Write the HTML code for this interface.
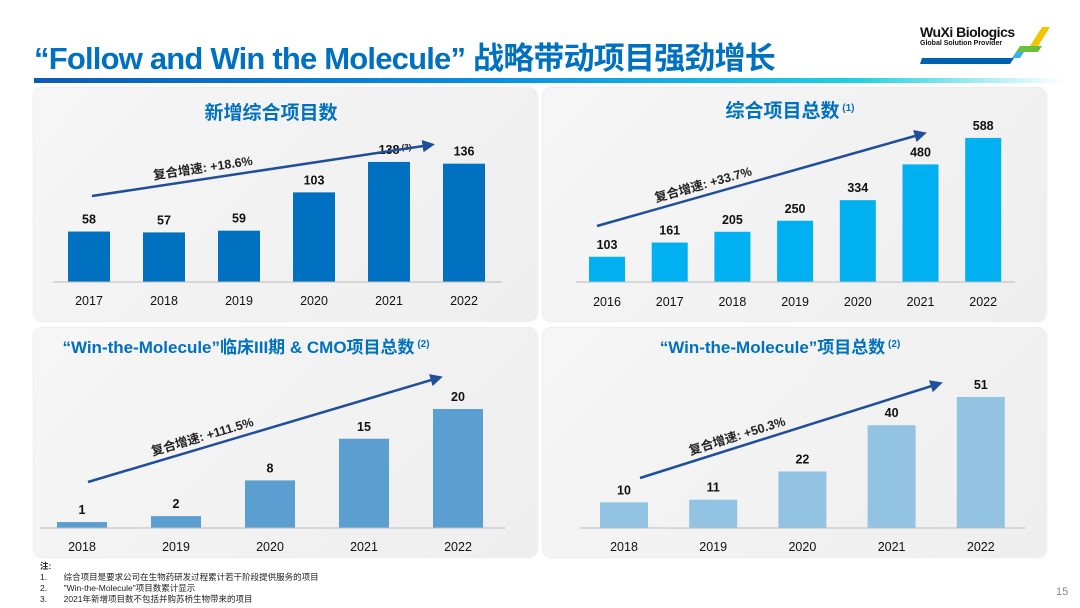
<!DOCTYPE html>
<html><head><meta charset="utf-8">
<style>
body{margin:0;width:1080px;height:608px;background:#fff;position:relative;overflow:hidden;font-family:"Liberation Sans","Noto Sans CJK SC",sans-serif}
.panel{position:absolute;border-radius:8px;background:linear-gradient(135deg,#f6f6f6,#eeeeee);box-shadow:0 0 2px #ccc}
svg text{font-family:"Liberation Sans","Noto Sans CJK SC",sans-serif}
</style></head><body>
<div style="position:absolute;left:34px;top:33px;font-size:31px;font-weight:bold;color:#0070C0;letter-spacing:-0.8px">“Follow and Win the Molecule” 战略带动项目强劲增长</div>
<div style="position:absolute;left:34px;top:78px;width:1030px;height:5px;background:linear-gradient(90deg,#0a5bb5,#0a8fe0 45%,#20d0e0 80%,#fff)"></div>
<div style="position:absolute;left:920px;top:24px;width:140px;height:40px">
 <div style="font-size:14px;font-weight:bold;color:#111;letter-spacing:-0.5px">WuXi Biologics</div>
 <div style="font-size:7px;font-weight:bold;color:#111">Global Solution Provider</div>
 <svg width="140" height="40" style="position:absolute;left:0;top:0"><polygon points="122,3 130,3 118,22 110,22" fill="#f5c400"/><polygon points="100,22 122,22 118,28 96,28" fill="#6bbf3a"/><polygon points="96,28 104,28 100,34 92,34" fill="#3ab0e8"/><polygon points="2,34 94,34 90,40 0,40" fill="#0060b0"/></svg>
</div>
<div class="panel" style="left:34px;top:88px;width:503px;height:233px"></div>
<div class="panel" style="left:543px;top:88px;width:503px;height:233px"></div>
<div class="panel" style="left:34px;top:328px;width:503px;height:229px"></div>
<div class="panel" style="left:543px;top:328px;width:503px;height:229px"></div>
<svg id="c" width="1080" height="608" style="position:absolute;left:0;top:0"></svg>
<div style="position:absolute;left:40px;top:561px;font-size:8.5px;color:#222;line-height:11px">
<div style="font-weight:bold">注:</div>
<div>1.&nbsp;&nbsp;&nbsp;&nbsp;&nbsp;&nbsp;&nbsp;综合项目是要求公司在生物药研发过程累计若干阶段提供服务的项目</div>
<div>2.&nbsp;&nbsp;&nbsp;&nbsp;&nbsp;&nbsp;&nbsp;"Win-the-Molecule"项目数累计显示</div>
<div>3.&nbsp;&nbsp;&nbsp;&nbsp;&nbsp;&nbsp;&nbsp;2021年新增项目数不包括并购苏桥生物带来的项目</div>
</div>
<div style="position:absolute;left:1056px;top:586px;font-size:11px;color:#888">15</div>
<script>
const cat1=["2017","2018","2019","2020","2021","2022"];
const val1=[58,57,59,103,138,136];
const cat2=["2016","2017","2018","2019","2020","2021","2022"];
const val2=[103,161,205,250,334,480,588];
const cat3=["2018","2019","2020","2021","2022"];
const val3=[1,2,8,15,20];
const cat4=["2018","2019","2020","2021","2022"];
const val4=[10,11,22,40,51];
const cagr=["复合增速: +18.6%","复合增速: +33.7%","复合增速: +111.5%","复合增速: +50.3%"];
const titles=["新增综合项目数","综合项目总数","“Win-the-Molecule”临床III期 & CMO项目总数","“Win-the-Molecule”项目总数"];
const svg=document.getElementById('c');
const NS="http://www.w3.org/2000/svg";
function mk(t,a,txt){const e=document.createElementNS(NS,t);for(const k in a)e.setAttribute(k,a[k]);if(txt!=null)e.textContent=txt;svg.appendChild(e);return e;}
mk('defs',{}).innerHTML='<marker id="ah" markerWidth="5" markerHeight="5" refX="3" refY="2.5" orient="auto"><path d="M0,0 L5,2.5 L0,5 z" fill="#1F4E9A"/></marker>';
function chart(cfg){
 const {cats,vals,x0,step,bw,base,scale,color,axL,axR,title,tx,ty,sup,arrow,cg,labelY,name,tfs}=cfg;
 const X=i=>x0+i*step, Y=v=>base-v*scale;
 let t=mk('text',{x:tx,y:ty,'text-anchor':'middle','font-size':tfs,'font-weight':'bold',fill:'#0070C0'},title);
 
 if(sup){const s=document.createElementNS(NS,'tspan');s.setAttribute('font-size',10);s.setAttribute('dy',-6);s.textContent=' '+sup;t.appendChild(s);}
 vals.forEach((v,i)=>{
  const r=mk('rect',{x:X(i)-bw/2,y:Y(v),width:bw,height:v*scale,fill:color});
  
  const l=mk('text',{x:X(i),y:Y(v)-8,'text-anchor':'middle','font-size':12.5,'font-weight':'bold',fill:'#111'},v);
  
  if(name==='new-projects'&&i===4){const s=document.createElementNS(NS,'tspan');s.setAttribute('font-size',8);s.setAttribute('dy',-4);s.textContent=' (3)';l.appendChild(s);l.setAttribute('x',X(i)+6);}
  const c=mk('text',{x:X(i),y:labelY,'text-anchor':'middle','font-size':12.5,fill:'#111'},cats[i]);
  
 });
 const ax=mk('line',{x1:axL,x2:axR,y1:base,y2:base,stroke:'#bbb','stroke-width':1});
 
 const [a1,b1,a2,b2]=arrow;
 const ar=mk('line',{x1:a1,y1:b1,x2:a2,y2:b2,stroke:'#1F4E9A','stroke-width':2.5,'marker-end':'url(#ah)'});
 
 const ang=Math.atan2(b2-b1,a2-a1)*180/Math.PI;
 const mx=a1+(a2-a1)*0.33,my=b1+(b2-b1)*0.33-7;
 const g=mk('text',{x:mx,y:my,'text-anchor':'middle','font-size':12.5,'font-weight':'bold',fill:'#222',transform:`rotate(${ang} ${mx} ${my})`},cg);
 
}
chart({name:'new-projects',tfs:19,cats:cat1,vals:val1,x0:89,step:75,bw:42,base:282,scale:0.87,color:'#0070C0',axL:53,axR:502,title:titles[0],tx:271,ty:119,arrow:[92,196,430,145],cg:cagr[0],labelY:305});
chart({name:'total-projects',tfs:19,cats:cat2,vals:val2,x0:607,step:62.7,bw:36,base:282,scale:0.245,color:'#00B0F0',axL:576,axR:1015,title:titles[1],tx:790,ty:117,sup:'(1)',arrow:[597,226,922,134],cg:cagr[1],labelY:306});
chart({name:'wtm-phase3',tfs:17,cats:cat3,vals:val3,x0:82,step:94,bw:50,base:528,scale:5.95,color:'#5B9FD0',axL:40,axR:505,title:titles[2],tx:246,ty:353,sup:'(2)',arrow:[88,482,438,378],cg:cagr[2],labelY:551});
chart({name:'wtm-total',tfs:17,cats:cat4,vals:val4,x0:624,step:89.2,bw:48,base:528,scale:2.57,color:'#92C3E3',axL:580,axR:1025,title:titles[3],tx:780,ty:353,sup:'(2)',arrow:[640,478,938,384],cg:cagr[3],labelY:551});
</script>
</body></html>
